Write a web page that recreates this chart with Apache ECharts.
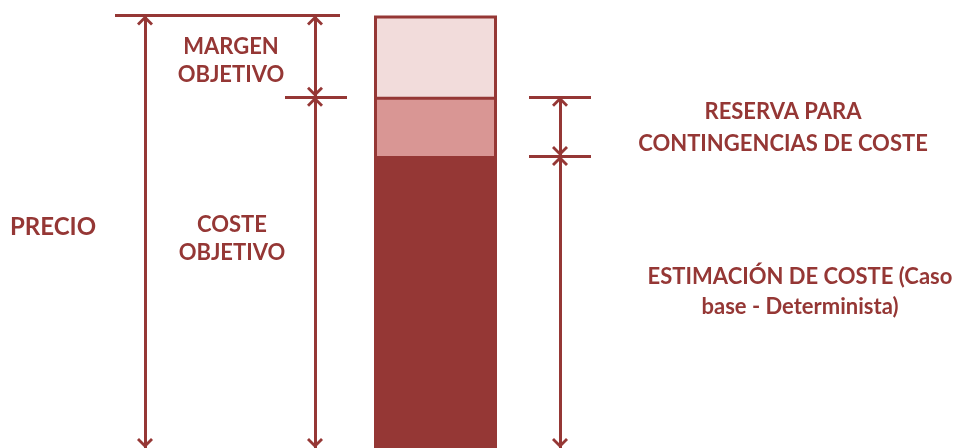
<!DOCTYPE html>
<html><head><meta charset="utf-8">
<script src="https://cdn.jsdelivr.net/npm/echarts@6/dist/echarts.min.js"></script>
<style>html,body{margin:0;padding:0;background:#fff}#c{width:957px;height:448px}</style>
</head><body><div id="c"></div>
<script>
// ---- Data: composition of the price (% of price) ----
const segments = ['ESTIMACIÓN DE COSTE', 'RESERVA PARA CONTINGENCIAS DE COSTE', 'MARGEN OBJETIVO'];
const segmentValues = [67.5, 13.7, 18.8];
const segmentColors = ['#953735', '#D99694', '#F2DCDB'];
const textLabels = {
  precio: 'PRECIO',
  margen: 'MARGEN\nOBJETIVO',
  costeObj: 'COSTE\nOBJETIVO',
  reserva: 'RESERVA PARA\nCONTINGENCIAS DE COSTE',
  estimacion: 'ESTIMACIÓN DE COSTE (Caso\nbase - Determinista)'
};

// cumulative levels built from the segment values
const levels = [];
segmentValues.reduce((acc, v) => { levels.push(acc + v); return acc + v; }, 0);
const costTop = levels[0], contTop = levels[1], priceTop = levels[2];

const RED = '#953735';
const BAR_X = 435.5;          // bar centre on the hidden horizontal axis
const X_PRECIO = 145, X_OBJ = 315, X_EST = 560;

const arrow = 'path://M0,8 L8,0 L16,8 L14,10 L8,4 L2,10 Z';

function seg(x, y0, y1) {
  return [{ xAxis: x, yAxis: y0 }, { xAxis: x, yAxis: y1 }];
}
function hline(y, x0, x1) {
  return [{ xAxis: x0, yAxis: y, symbol: 'none' }, { xAxis: x1, yAxis: y, symbol: 'none' }];
}

// draw from top to bottom so lower segments overlay
const barSeries = [2, 1, 0].map(i => ({
  type: 'bar',
  name: segments[i],
  barWidth: 123,
  barGap: '-100%',
  data: [[BAR_X, levels[i]]],
  itemStyle: { color: segmentColors[i], borderColor: RED, borderWidth: 3 },
  silent: true
}));

barSeries.push({
  type: 'line',
  data: [],
  silent: true,
  markLine: {
    silent: true,
    animation: false,
    symbol: [arrow, arrow],
    symbolSize: [16, 10],
    symbolOffset: [[0, 5], [0, 5]],
    label: { show: false },
    lineStyle: { color: RED, width: 3, type: 'solid' },
    data: [
      seg(X_PRECIO, priceTop, 0),
      seg(X_OBJ, priceTop, contTop),
      seg(X_OBJ, contTop, 0),
      seg(X_EST, contTop, costTop),
      seg(X_EST, costTop, 0),
      hline(priceTop, 115, 340),
      hline(contTop, 285, 347),
      hline(contTop, 529, 591),
      hline(costTop, 529, 591)
    ]
  }
});

function txt(text, x, y, lh, align, size) {
  return { type: 'text', x: x, y: y, silent: true,
    style: { text: text, fill: RED, font: 'bold ' + (size || 22) + 'px Lato', textAlign: align || 'center',
             textVerticalAlign: 'middle', lineHeight: lh } };
}

const chart = echarts.init(document.getElementById('c'), null, { renderer: 'canvas' });
chart.setOption({
  animation: false,
  grid: { left: 0, right: 0, top: 15.5, bottom: 0 },
  xAxis: { type: 'value', min: 0, max: 957, show: false },
  yAxis: { type: 'value', min: 0, max: 100, show: false },
  series: barSeries,
  graphic: [
    txt(textLabels.precio, 10, 227, 28, 'left', 24),
    txt(textLabels.margen, 231, 61, 28),
    txt(textLabels.costeObj, 232, 238.5, 28),
    txt(textLabels.reserva, 783, 128, 32),
    txt(textLabels.estimacion, 800, 292, 30)
  ]
});
</script></body></html>
